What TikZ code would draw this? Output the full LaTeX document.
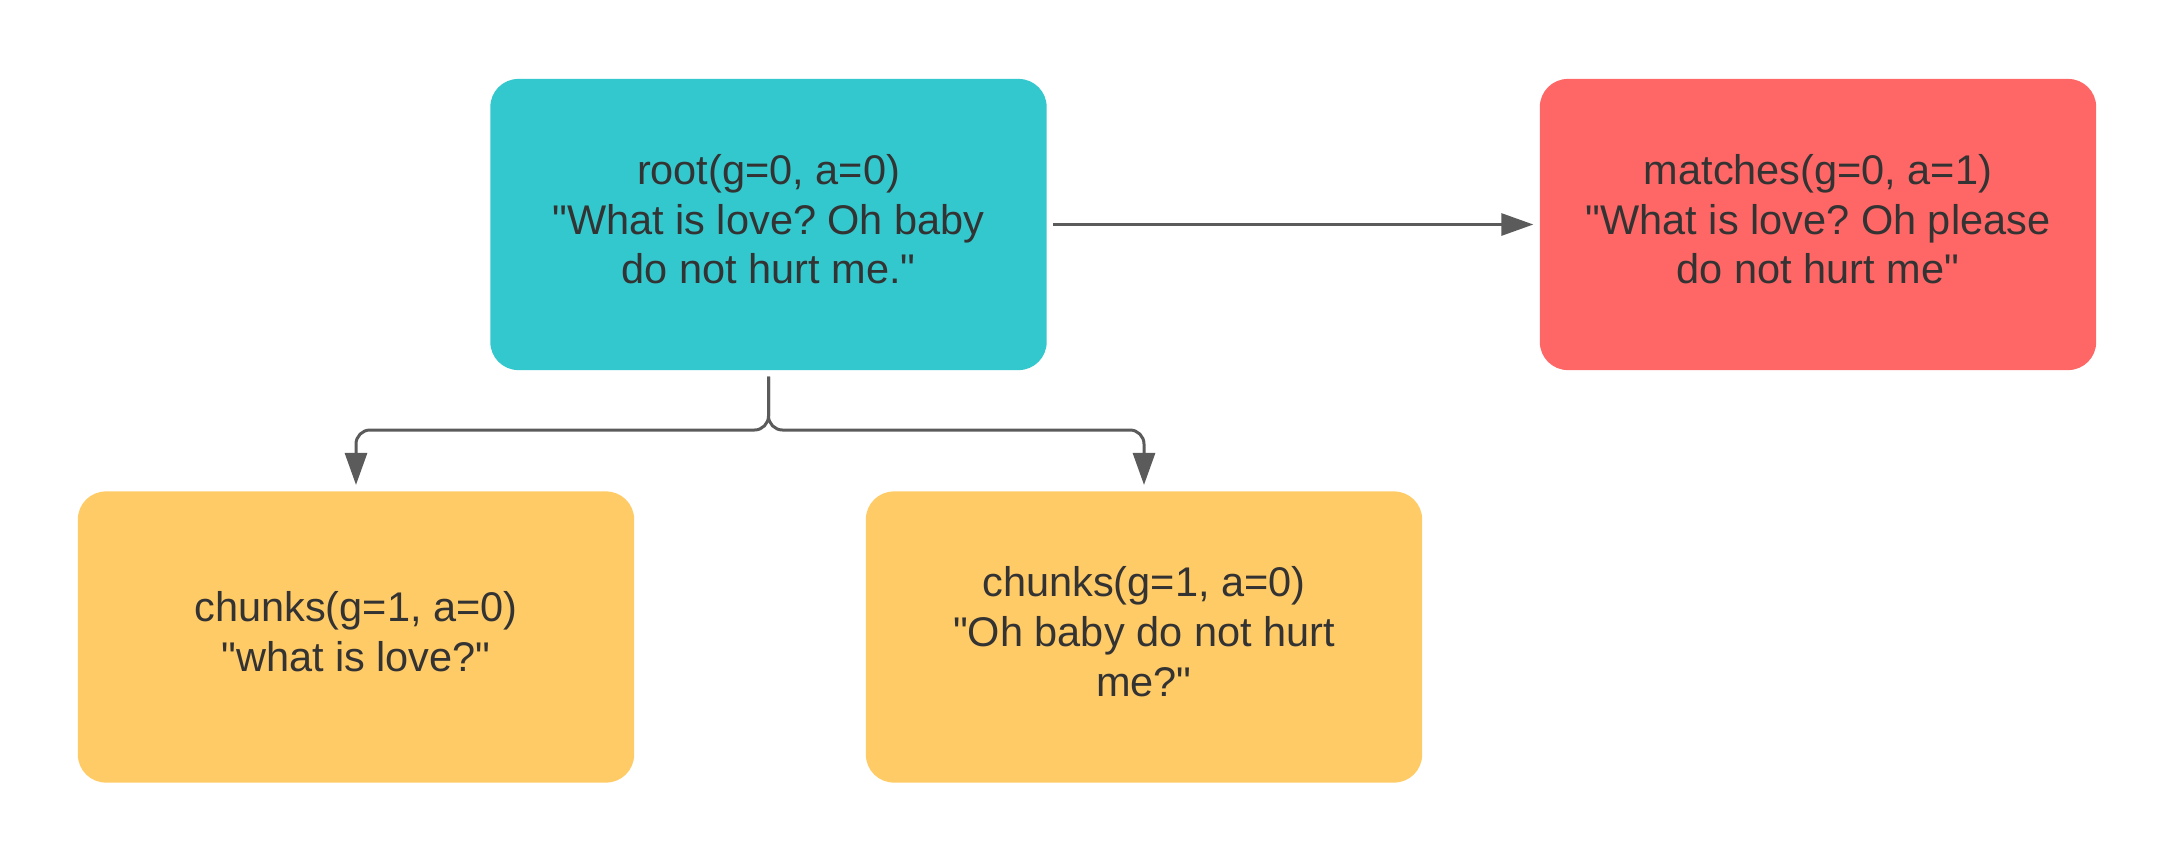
\documentclass[tikz,border=0pt]{standalone}
\usepackage{fontspec}
\setmainfont{Liberation Sans}
\usetikzlibrary{arrows.meta}
\definecolor{rootteal}{HTML}{32C8CD}
\definecolor{matchred}{HTML}{FF6666}
\definecolor{chunkyellow}{HTML}{FFCB66}
\definecolor{labelgray}{HTML}{333333}
\definecolor{linegray}{HTML}{5B5B5B}
\newcommand{\qt}{\textquotedbl}
\tikzset{
  box/.style={rectangle, rounded corners=0.28cm, minimum width=5.56cm,
    minimum height=2.91cm, inner sep=0pt, outer sep=0.065cm, align=center,
    text depth=0.11cm, text=labelgray,
    font=\frenchspacing\fontsize{11.8}{14.2}\selectfont},
  conn/.style={draw=linegray, line width=0.03cm,
    -{Triangle[length=0.32cm, width=0.22cm]}, fill=none}
}
\begin{document}
\begin{tikzpicture}[x=0.01cm, y=-0.01cm]
    % page frame
    \useasboundingbox (0, 0) rectangle (2175, 863);
    % root box
    \node [box, fill=rootteal] (root) at (768.5, 224.5)
      {root(g=0, a=0)\\\qt What is love? Oh baby\\do not hurt me.\qt};
    % matches box
    \node [box, fill=matchred] (matches) at (1818, 224.5)
      {matches(g=0, a=1)\\\qt What is love? Oh please\\do not hurt me\qt};
    % first chunk
    \node [box, fill=chunkyellow] (chunkA) at (356, 637)
      {chunks(g=1, a=0)\\\qt what is love?\qt};
    % second chunk
    \node [box, fill=chunkyellow] (chunkB) at (1144, 637)
      {chunks(g=1, a=0)\\\qt Oh baby do not hurt\\me?\qt};
    % fork point under root
    \coordinate (fork) at (768.5, 430);
    % root to matches
    \draw [conn] (root.east) -- (matches.west);
    % root to chunks
    \draw [conn, rounded corners=0.14cm] (root.south) -- (fork) -| (chunkA.north);
    \draw [conn, rounded corners=0.14cm] (root.south) -- (fork) -| (chunkB.north);
\end{tikzpicture}
\end{document}
